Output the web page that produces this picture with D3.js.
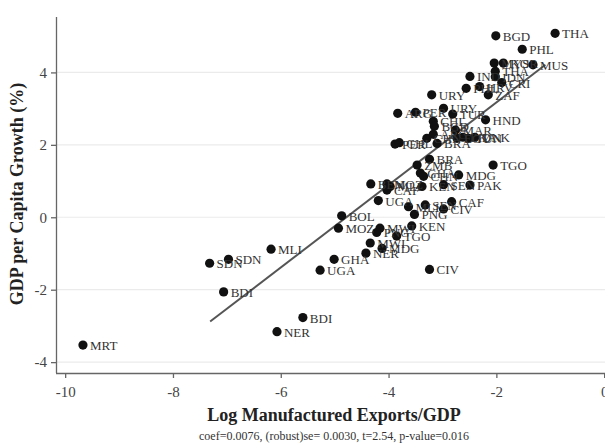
<!DOCTYPE html>
<html>
<head>
<meta charset="utf-8">
<script src="https://cdn.jsdelivr.net/npm/d3@7/dist/d3.min.js"></script>
<style>
  html, body { margin: 0; padding: 0; background: #fff; }
  svg { display: block; }
  text { font-family: "Liberation Serif", "Times New Roman", serif; }
</style>
</head>
<body>
<svg id="chart" width="605" height="445"></svg>
<script>
// Country codes, log manufactured exports / GDP, and GDP per capita growth (%)
const countries = [
  "THA","BGD","PHL","MUS","MYS","KOR","THA","IDN","CRI","IND","PHL","HRV","ZAF",
  "URY","ARG","PER","URY","TUR","HND","CHL","BGD","MAR","ARG","CHN","BRA","PER","CHL",
  "EGY","LKA","TUN","DNK",
  "BRA","ZMB","TGO","GHA","CHN","MDG","BEN","MOZ","MLI","CAF","KEN","SEN","PAK",
  "UGA","MLI","SEN","CAF","CIV","PNG","BOL","MOZ","MWI","PNG","KEN","TGO","MWI",
  "MDG","NER","GHA","UGA","CIV","MLI","SDN","SDN","BDI","BDI","NER","MRT"
];
const exportsLog = [
  -0.91,-2.01,-1.52,-1.32,-2.04,-1.87,-2.02,-2.02,-1.90,-2.49,-2.56,-2.31,-2.15,
  -3.20,-3.83,-3.50,-2.98,-2.81,-2.20,-3.17,-3.15,-2.76,-3.17,-3.29,-3.10,-3.88,-3.80,
  -2.73,-2.62,-2.52,-2.40,
  -3.24,-3.47,-2.06,-3.41,-3.35,-2.70,-4.33,-4.03,-3.97,-4.03,-3.38,-2.98,-2.49,
  -4.19,-3.63,-3.32,-2.83,-2.98,-3.52,-4.87,-4.93,-4.16,-4.22,-3.57,-3.85,-4.34,
  -4.12,-4.42,-5.01,-5.27,-3.24,-6.18,-6.97,-7.32,-7.06,-5.59,-6.07,-9.67
];
const gdpGrowth = [
  5.08,5.01,4.64,4.21,4.26,4.26,4.03,3.88,3.72,3.89,3.56,3.61,3.38,
  3.38,2.87,2.90,3.01,2.85,2.69,2.65,2.51,2.41,2.29,2.18,2.04,2.02,2.06,
  2.18,2.21,2.18,2.21,
  1.60,1.44,1.44,1.22,1.13,1.17,0.92,0.92,0.85,0.75,0.85,0.90,0.89,
  0.46,0.29,0.34,0.43,0.23,0.08,0.04,-0.30,-0.30,-0.42,-0.24,-0.52,-0.71,
  -0.86,-0.99,-1.16,-1.46,-1.44,-0.88,-1.16,-1.27,-2.06,-2.77,-3.16,-3.53
];

// Fitted line end points (x, y)
const fitX = [-7.31, -1.09];
const fitY = [-2.88, 4.21];

const xTicks = [-10, -8, -6, -4, -2, 0];
const yTicks = [-4, -2, 0, 2, 4];

const xTitle = "Log Manufactured Exports/GDP";
const yTitle = "GDP per Capita Growth (%)";
const note = "coef=0.0076, (robust)se= 0.0030, t=2.54, p-value=0.016";

const svg = d3.select("#chart");
const plotLeft = 56, plotTop = 17, plotBottom = 373;

const x = d3.scaleLinear().domain([-10.17, 0.1]).range([plotLeft, plotLeft + 10.27 * 53.9]);
const y = d3.scaleLinear().domain([-4.30, 5.53]).range([plotBottom, plotTop]);

// Horizontal grid lines
svg.append("g")
  .selectAll("line")
  .data(yTicks)
  .join("line")
  .attr("x1", plotLeft).attr("x2", 605)
  .attr("y1", d => y(d)).attr("y2", d => y(d))
  .attr("stroke", "#ebebeb").attr("stroke-width", 1.2);

// Axes (plain hyphen minus signs on tick labels)
const fmt = d => String(d);
const xAxis = svg.append("g")
  .attr("transform", `translate(0,${plotBottom})`)
  .call(d3.axisBottom(x).tickValues(xTicks).tickSize(5).tickPadding(8).tickFormat(fmt));
const yAxis = svg.append("g")
  .attr("transform", `translate(${plotLeft},0)`)
  .call(d3.axisLeft(y).tickValues(yTicks).tickSize(5).tickPadding(4).tickFormat(fmt));

[xAxis, yAxis].forEach(g => {
  g.select(".domain").attr("stroke", "#666").attr("stroke-width", 1.3);
  g.selectAll(".tick line").attr("stroke", "#666").attr("stroke-width", 1.3);
  g.selectAll(".tick text")
    .attr("fill", "#444")
    .style("font-family", "'Liberation Serif', serif")
    .style("font-size", "15px");
});
xAxis.select(".domain").attr("d", `M${plotLeft},0.5H605`);
yAxis.select(".domain").attr("d", `M0.5,${plotTop}V${plotBottom}`);

// Fitted line
const fit = fitX.map((v, i) => [v, fitY[i]]);
svg.append("path")
  .datum(fit)
  .attr("d", d3.line().x(d => x(d[0])).y(d => y(d[1])))
  .attr("stroke", "#555").attr("stroke-width", 2).attr("fill", "none");

// Points and labels
const pts = countries.map((c, i) => ({ c, x: exportsLog[i], y: gdpGrowth[i] }));
const g = svg.append("g");
g.selectAll("circle")
  .data(pts)
  .join("circle")
  .attr("cx", d => x(d.x)).attr("cy", d => y(d.y))
  .attr("r", 4.6)
  .attr("fill", "#111");
g.selectAll("text")
  .data(pts)
  .join("text")
  .attr("x", d => x(d.x) + 7)
  .attr("y", d => y(d.y) + 5)
  .attr("fill", "#333")
  .style("font-size", "13px")
  .text(d => d.c);

// Titles
svg.append("text")
  .attr("x", 334).attr("y", 421)
  .attr("text-anchor", "middle")
  .attr("fill", "#222")
  .style("font-size", "18px").style("font-weight", "bold")
  .text(xTitle);
svg.append("text")
  .attr("transform", "translate(23,194) rotate(-90)")
  .attr("text-anchor", "middle")
  .attr("fill", "#222")
  .style("font-size", "18px").style("font-weight", "bold")
  .text(yTitle);
svg.append("text")
  .attr("x", 334).attr("y", 440)
  .attr("text-anchor", "middle")
  .attr("fill", "#333")
  .style("font-size", "12px")
  .text(note);
</script>
</body>
</html>
